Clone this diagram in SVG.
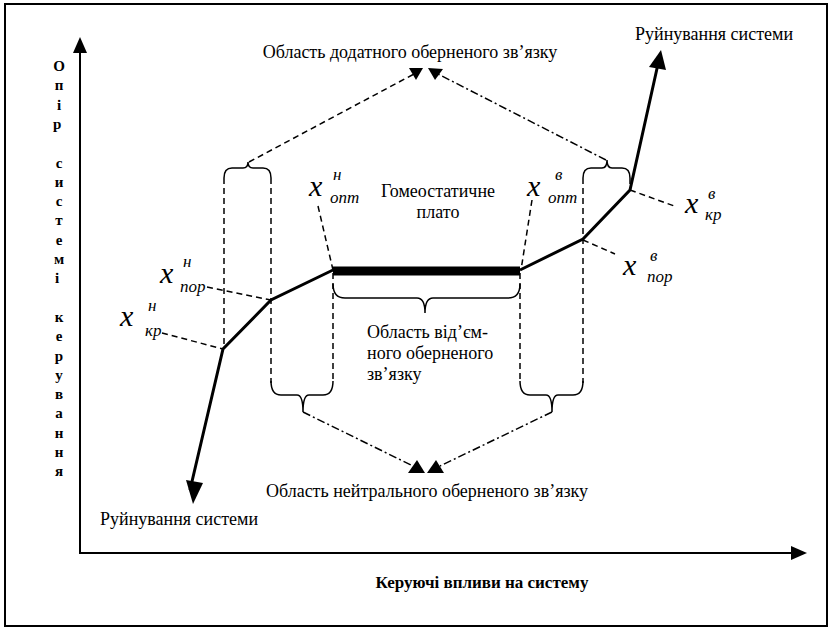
<svg xmlns="http://www.w3.org/2000/svg" width="832" height="631" viewBox="0 0 832 631">
<rect x="5" y="4" width="822" height="622" fill="#fff" stroke="#000" stroke-width="2"/>
<g id="axes" stroke="#000" stroke-width="2" fill="none">
<line x1="80" y1="553" x2="80" y2="50"/>
<line x1="79" y1="553" x2="793" y2="553"/>
<polygon points="80,37 73,53 87,53" fill="#000" stroke="none"/>
<polygon points="807,553 791,546 791,560" fill="#000" stroke="none"/>
</g>
<g id="y-label">
<text font-family="Liberation Serif" font-size="15" font-weight="bold" text-anchor="middle">
<tspan x="59" y="71">О</tspan><tspan x="59" y="90.3">п</tspan><tspan x="59" y="109.6">і</tspan><tspan x="59" y="128.9">р</tspan>
<tspan x="59" y="167.5">с</tspan><tspan x="59" y="186.8">и</tspan><tspan x="59" y="206.1">с</tspan><tspan x="59" y="225.4">т</tspan><tspan x="59" y="244.7">е</tspan><tspan x="59" y="264">м</tspan><tspan x="59" y="283.3">і</tspan>
<tspan x="59" y="321.9">к</tspan><tspan x="59" y="341.2">е</tspan><tspan x="59" y="360.5">р</tspan><tspan x="59" y="379.8">у</tspan><tspan x="59" y="399.1">в</tspan><tspan x="59" y="418.4">а</tspan><tspan x="59" y="437.7">н</tspan><tspan x="59" y="457">н</tspan><tspan x="59" y="476.3">я</tspan>
</text>
</g>
<g id="x-label"><text font-family="Liberation Serif" font-size="17" font-weight="bold" x="482" y="588" text-anchor="middle">Керуючі впливи на систему</text></g>
<g id="connectors">
<g stroke="#000" stroke-width="1.5" fill="none" stroke-dasharray="6 4">
<line x1="224" y1="178" x2="224" y2="349"/>
<line x1="271" y1="178" x2="271" y2="383"/>
<line x1="333" y1="273" x2="333" y2="383"/>
<line x1="520" y1="273" x2="520" y2="383"/>
<line x1="583" y1="178" x2="583" y2="383"/>
<line x1="630" y1="178" x2="630" y2="190"/>
<line x1="318" y1="206" x2="333" y2="270"/>
<line x1="532" y1="200" x2="521" y2="270"/>
<line x1="207" y1="287" x2="271" y2="300"/>
<line x1="162" y1="333" x2="223" y2="349"/>
<line x1="583" y1="240" x2="615" y2="254"/>
<line x1="630" y1="190" x2="677" y2="207"/>
<line x1="249" y1="162" x2="414" y2="74"/>
</g>
<g stroke="#000" stroke-width="1.5" fill="none" stroke-dasharray="8 3 2 3">
<line x1="606" y1="160" x2="438" y2="74"/>
<line x1="303" y1="412" x2="413" y2="466"/>
<line x1="552" y1="412" x2="440" y2="466"/>
</g>
<g fill="#000">
<polygon points="409,68 423,68 416,80"/>
<polygon points="428,68 443,69 435,80"/>
<polygon points="408,473 425,473 417,460"/>
<polygon points="427,473 444,473 436,460"/>
</g>
</g>
<g id="braces" stroke="#000" stroke-width="1.5" fill="none">
<path d="M224,178 Q224,168 232,168 L243,168 Q248,168 248,162 Q248,168 253,168 L263,168 Q271,168 271,178"/>
<path d="M583,178 Q583,168 591,168 L602,168 Q607,168 607,160 Q607,168 612,168 L622,168 Q630,168 630,178"/>
<path d="M271,381 Q271,395 281,395 L297,395 Q303,395 303,412 Q303,395 309,395 L323,395 Q333,395 333,381"/>
<path d="M520,381 Q520,395 530,395 L546,395 Q552,395 552,412 Q552,395 558,395 L573,395 Q583,395 583,381"/>
<path d="M333,284 Q333,298 345,298 L417,298 Q425,298 425,313 Q425,298 433,298 L508,298 Q520,298 520,284"/>
</g>
<g id="curve">
<polyline points="190,490 223,349 271,300 333,270" stroke="#000" stroke-width="3" fill="none"/>
<polygon points="193,504 186,480 203,483" fill="#000"/>
<line x1="333" y1="271" x2="520" y2="271" stroke="#000" stroke-width="9"/>
<polyline points="520,270 583,239 630,190 658,64" stroke="#000" stroke-width="3" fill="none"/>
<polygon points="661,50 649,67 666,70" fill="#000"/>
</g>
<g id="label-positive"><text font-family="Liberation Serif" font-size="18" x="410" y="58" text-anchor="middle">Область додатного оберненого зв’язку</text></g>
<g id="label-neutral"><text font-family="Liberation Serif" font-size="18" x="427" y="497" text-anchor="middle">Область нейтрального оберненого зв’язку</text></g>
<g id="label-destroy-top"><text font-family="Liberation Serif" font-size="18" x="635" y="40">Руйнування системи</text></g>
<g id="label-destroy-bottom"><text font-family="Liberation Serif" font-size="18" x="100" y="525">Руйнування системи</text></g>
<g id="label-plateau"><text font-family="Liberation Serif" font-size="18" text-anchor="middle"><tspan x="438" y="197">Гомеостатичне</tspan><tspan x="438" y="218">плато</tspan></text></g>
<g id="label-negative"><text font-family="Liberation Serif" font-size="18"><tspan x="367" y="338">Область від’єм-</tspan><tspan x="367" y="359">ного оберненого</tspan><tspan x="367" y="380">зв’язку</tspan></text></g>
<g id="x-opt-n"><text font-family="Liberation Serif" font-style="italic" font-size="30" x="309" y="196">x</text><text font-family="Liberation Serif" font-style="italic" font-size="17" x="333" y="180">н</text><text font-family="Liberation Serif" font-style="italic" font-size="17" x="330" y="203">опт</text></g>
<g id="x-opt-v"><text font-family="Liberation Serif" font-style="italic" font-size="30" x="527" y="196">x</text><text font-family="Liberation Serif" font-style="italic" font-size="17" x="555" y="180">в</text><text font-family="Liberation Serif" font-style="italic" font-size="17" x="548" y="203">опт</text></g>
<g id="x-por-n"><text font-family="Liberation Serif" font-style="italic" font-size="30" x="160" y="283">x</text><text font-family="Liberation Serif" font-style="italic" font-size="17" x="183" y="267">н</text><text font-family="Liberation Serif" font-style="italic" font-size="17" x="180" y="292">пор</text></g>
<g id="x-kr-n"><text font-family="Liberation Serif" font-style="italic" font-size="30" x="120" y="326">x</text><text font-family="Liberation Serif" font-style="italic" font-size="17" x="148" y="311">н</text><text font-family="Liberation Serif" font-style="italic" font-size="17" x="145" y="336">кр</text></g>
<g id="x-por-v"><text font-family="Liberation Serif" font-style="italic" font-size="30" x="623" y="275">x</text><text font-family="Liberation Serif" font-style="italic" font-size="17" x="650" y="261">в</text><text font-family="Liberation Serif" font-style="italic" font-size="17" x="647" y="282">пор</text></g>
<g id="x-kr-v"><text font-family="Liberation Serif" font-style="italic" font-size="30" x="685" y="213">x</text><text font-family="Liberation Serif" font-style="italic" font-size="17" x="708" y="199">в</text><text font-family="Liberation Serif" font-style="italic" font-size="17" x="705" y="220">кр</text></g>
</svg>
